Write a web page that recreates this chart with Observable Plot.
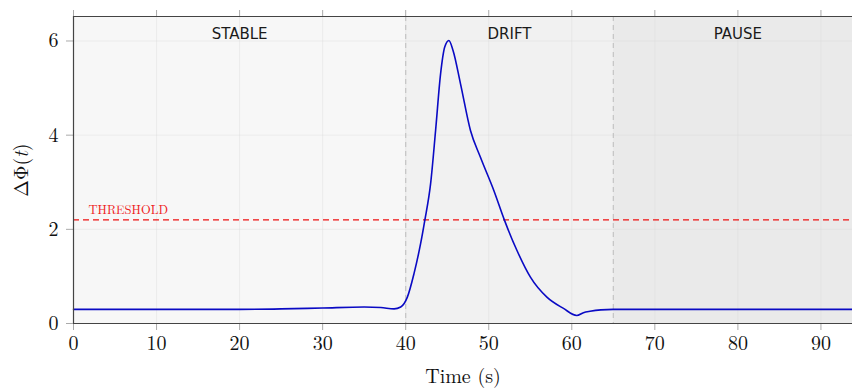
<!DOCTYPE html>
<html>
<head>
<meta charset="utf-8">
<script src="https://cdn.jsdelivr.net/npm/d3@7"></script>
<script src="https://cdn.jsdelivr.net/npm/@observablehq/plot@0.6"></script>
<style>
  html, body { margin: 0; padding: 0; background: #fff; }
  #chart { width: 852px; height: 388px; }
</style>
</head>
<body>
<div id="chart"></div>
<script>
// ---- data ----
const times  = [0, 10, 20, 25, 30, 35, 37, 38.6, 39.4, 40.2, 41.0, 41.8, 42.3, 43.0, 43.6, 44.2, 44.7, 45.2, 45.7, 46.6, 47.8, 49.0, 50.6, 51.9, 53.4, 55.0, 57.0, 59.0, 60.6, 61.4, 62.2, 63.5, 65, 70, 80, 94];
const values = [0.30, 0.30, 0.30, 0.31, 0.33, 0.35, 0.34, 0.31, 0.35, 0.56, 1.06, 1.70, 2.19, 2.97, 4.10, 5.30, 5.87, 6.01, 5.80, 5.09, 4.10, 3.53, 2.83, 2.19, 1.55, 0.99, 0.56, 0.32, 0.17, 0.23, 0.26, 0.29, 0.30, 0.30, 0.30, 0.30];
const regionNames  = ["STABLE", "DRIFT", "PAUSE"];
const regionStarts = [0, 40, 65];
const regionEnds   = [40, 65, 95];
const boundaries   = [40, 65];
const threshold    = 2.2;
const thresholdLabel = "THRESHOLD";
const xTicks = [0, 10, 20, 30, 40, 50, 60, 70, 80, 90];
const yTicks = [0, 2, 4, 6];
const xDomain = [0, 93.8];
const yDomain = [0, 6.52];
const xLabel = "Time (s)";

const series = times.map((t, i) => ({t, v: values[i]}));
const regions = regionNames.map((name, i) => ({name, start: regionStarts[i], end: regionEnds[i]}));

const serif = "'Latin Modern Roman', 'Liberation Serif', 'DejaVu Serif', serif";

const plot = Plot.plot({
  width: 852,
  height: 388,
  marginLeft: 73,
  marginRight: 0,
  marginTop: 16,
  marginBottom: 65,
  style: {fontFamily: serif, fontSize: "20px", color: "#111", background: "#fff", overflow: "visible"},
  x: {domain: xDomain},
  y: {domain: yDomain},
  color: {domain: regionNames, range: ["#f7f7f7", "#f1f1f1", "#eaeaea"]},
  marks: [
    Plot.rect(regions, {x1: "start", x2: "end", fill: "name", clip: true}),
    Plot.gridX(xTicks, {stroke: "#d8d8d8", strokeOpacity: 0.35}),
    Plot.gridY(yTicks, {stroke: "#d8d8d8", strokeOpacity: 0.35}),
    Plot.ruleX(boundaries, {stroke: "#c4c4c4", strokeWidth: 1.2, strokeDasharray: "5,4"}),
    Plot.ruleY([threshold], {stroke: "#ee1111", strokeWidth: 1.4, strokeDasharray: "6,4"}),
    Plot.text([thresholdLabel], {x: xDomain[0], y: threshold, text: d => d, textAnchor: "start", lineAnchor: "bottom", dx: 15, dy: -6, fill: "#ee2222", fontSize: 12.5, letterSpacing: 1.3, fontFamily: serif}),
    Plot.line(series, {x: "t", y: "v", curve: "monotone-x", stroke: "#0a0ac4", strokeWidth: 1.6}),
    Plot.text(regions, {x: d => (d.start + d.end) / 2, text: "name", frameAnchor: "top", dy: 12, fontFamily: "'DejaVu Sans', sans-serif", fontSize: 15, fill: "#1a1a1a", letterSpacing: 0.3}),
    Plot.axisX({ticks: xTicks, anchor: "bottom", tickSize: 7, tickPadding: 5, stroke: "#aaa", fill: "#111", label: null, tickFormat: d3.format("d")}),
    Plot.axisX({ticks: xTicks, anchor: "top", tickSize: 7, tickFormat: () => "", stroke: "#aaa", label: null}),
    Plot.axisY({ticks: yTicks, anchor: "left", tickSize: 7, tickPadding: 8, stroke: "#aaa", fill: "#111", label: null, tickFormat: d3.format("d")}),
    Plot.ruleY([yDomain[0]], {stroke: "#444", strokeWidth: 1.2}),
    Plot.ruleY([yDomain[1]], {stroke: "#444", strokeWidth: 1.2}),
    Plot.ruleX([xDomain[0]], {stroke: "#444", strokeWidth: 1.2}),
    Plot.text([xLabel], {frameAnchor: "bottom", text: d => d, dy: 59, fontSize: 20, fontFamily: serif, fill: "#111"})
  ]
});

document.getElementById("chart").appendChild(plot);

// y axis label with italic t
const svg = d3.select(plot);
const yl = svg.append("text")
  .attr("transform", "translate(24,170) rotate(-90)")
  .attr("text-anchor", "middle")
  .attr("dominant-baseline", "middle")
  .attr("font-family", serif)
  .attr("font-size", 20)
  .attr("fill", "#111");
yl.append("tspan").text("ΔΦ(");
yl.append("tspan").attr("font-style", "italic").text("t");
yl.append("tspan").text(")");
</script>
</body>
</html>
